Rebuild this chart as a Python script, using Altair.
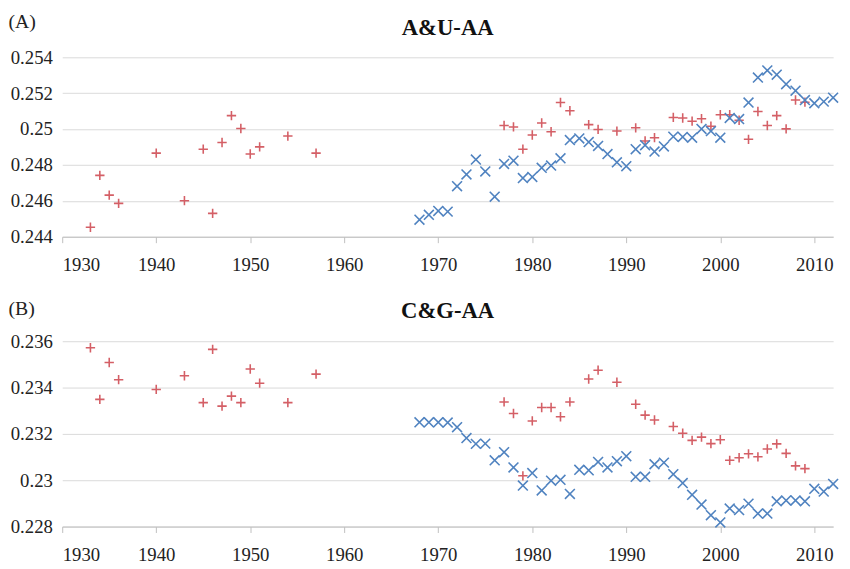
import altair as alt
import pandas as pd

# ---- Panel A: A&U-AA ----
a_red_years = [1933, 1934, 1935, 1936, 1940, 1943, 1945, 1946, 1947, 1948, 1949, 1950, 1951, 1954, 1957,
               1977, 1978, 1979, 1980, 1981, 1982, 1983, 1984, 1986, 1987, 1989, 1991, 1992, 1993,
               1995, 1996, 1997, 1998, 1999, 2000, 2001, 2002, 2003, 2004, 2005, 2006, 2007, 2008, 2009]
a_red_vals = [0.24453, 0.24742, 0.24632, 0.24586, 0.24866, 0.24601, 0.24888, 0.24530, 0.24925, 0.25075,
              0.25003, 0.24861, 0.24901, 0.24961, 0.24866,
              0.25020, 0.25012, 0.24888, 0.24967, 0.25034, 0.24985, 0.25148, 0.25102, 0.25025, 0.24998,
              0.24989, 0.25007, 0.24934, 0.24952,
              0.25065, 0.25062, 0.25044, 0.25058, 0.25016, 0.25080, 0.25080, 0.25049, 0.24943, 0.25098,
              0.25020, 0.25075, 0.25001, 0.25162, 0.25150]
a_blue_years = list(range(1968, 2013))
a_blue_vals = [0.24495, 0.24522, 0.24544, 0.24540, 0.24682, 0.24747, 0.24830, 0.24764, 0.24623, 0.24806,
               0.24824, 0.24727, 0.24733, 0.24784, 0.24797, 0.24837, 0.24939, 0.24948, 0.24928, 0.24906,
               0.24861, 0.24815, 0.24793, 0.24888, 0.24910, 0.24875, 0.24903, 0.24958, 0.24956, 0.24952,
               0.25001, 0.24989, 0.24952, 0.25062, 0.25056, 0.25148, 0.25287, 0.25327, 0.25303, 0.25250,
               0.25214, 0.25162, 0.25144, 0.25153, 0.25175]

# ---- Panel B: C&G-AA ----
b_red_years = a_red_years
b_red_vals = [0.23572, 0.23349, 0.23508, 0.23434, 0.23392, 0.23451, 0.23335, 0.23565, 0.23320, 0.23363,
              0.23335, 0.23480, 0.23419, 0.23335, 0.23458,
              0.23338, 0.23288, 0.23019, 0.23256, 0.23314, 0.23314, 0.23274, 0.23338, 0.23437, 0.23475,
              0.23423, 0.23328, 0.23281, 0.23260,
              0.23232, 0.23203, 0.23172, 0.23186, 0.23158, 0.23175, 0.23086, 0.23097, 0.23114, 0.23101,
              0.23135, 0.23157, 0.23116, 0.23062, 0.23050]
b_blue_years = list(range(1968, 2013))
b_blue_vals = [0.23250, 0.23250, 0.23250, 0.23249, 0.23229, 0.23182, 0.23157, 0.23158, 0.23086, 0.23121,
               0.23055, 0.22977, 0.23031, 0.22956, 0.22998, 0.23002, 0.22941, 0.23045, 0.23043, 0.23079,
               0.23055, 0.23082, 0.23104, 0.23015, 0.23015, 0.23069, 0.23076, 0.23026, 0.22988, 0.22937,
               0.22895, 0.22849, 0.22818, 0.22878, 0.22871, 0.22899, 0.22856, 0.22856, 0.22909, 0.22913,
               0.22913, 0.22909, 0.22963, 0.22951, 0.22984]

x_ticks = [1930, 1940, 1950, 1960, 1970, 1980, 1990, 2000, 2010]
a_y_ticks = [0.244, 0.246, 0.248, 0.250, 0.252, 0.254]
b_y_ticks = [0.228, 0.230, 0.232, 0.234, 0.236]

RED = "#d45f66"
BLUE = "#5083c0"
PLUS = "M-1,0L1,0M0,-1L0,1"
CROSS = "M-1,-1L1,1M-1,1L1,-1"
FONT = "Liberation Serif"


def panel(red_y, red_v, blue_y, blue_v, yticks, title, tag, height, tag_y, title_offset):
    red = pd.DataFrame({"year": red_y, "value": red_v})
    blue = pd.DataFrame({"year": blue_y, "value": blue_v})
    xenc = alt.X("year:Q", scale=alt.Scale(domain=[1930, 2012], nice=False, zero=False),
                 axis=alt.Axis(values=x_ticks, tickCount=20, format="d", title=None, grid=False,
                               domainColor="#bfbfbf", tickColor="#bfbfbf", tickSize=6,
                               labelFont=FONT, labelFontSize=19, labelColor="#222",
                               labelPadding=13, labelOverlap=False))
    yenc = alt.Y("value:Q", scale=alt.Scale(domain=[yticks[0], yticks[-1]], nice=False, zero=False),
                 axis=alt.Axis(values=yticks, tickCount=20, format="~g", title=tag, titleAngle=0,
                               titleAlign="left", titleBaseline="top", titleX=-55, titleY=tag_y,
                               titleFont=FONT, titleFontSize=20, titleFontWeight="normal",
                               titleColor="#222",
                               grid=True, gridColor="#d9d9d9", domain=False, ticks=False,
                               labelFont=FONT, labelFontSize=19, labelColor="#222",
                               labelPadding=10, labelOverlap=False))
    r = alt.Chart(red).mark_point(shape=PLUS, size=90, filled=False, strokeWidth=1.6,
                                  color=RED, opacity=1).encode(x=xenc, y=yenc)
    b = alt.Chart(blue).mark_point(shape=CROSS, size=100, filled=False, strokeWidth=1.6,
                                   color=BLUE, opacity=1).encode(x="year:Q", y="value:Q")
    return alt.layer(r, b).properties(
        width=782, height=height,
        title=alt.TitleParams(title, font=FONT, fontSize=23, fontWeight="bold",
                              color="#111", anchor="middle", offset=title_offset))


pa = panel(a_red_years, a_red_vals, a_blue_years, a_blue_vals, a_y_ticks, "A&U-AA", "(A)", 182, -46, -28)
pb = panel(b_red_years, b_red_vals, b_blue_years, b_blue_vals, b_y_ticks, "C&G-AA", "(B)", 188, -43, -24)

chart = alt.vconcat(pa, pb, spacing=25).properties(padding=0).configure_view(stroke=None)

chart.save("out.html", embed_options={"renderer": "svg", "actions": False})
